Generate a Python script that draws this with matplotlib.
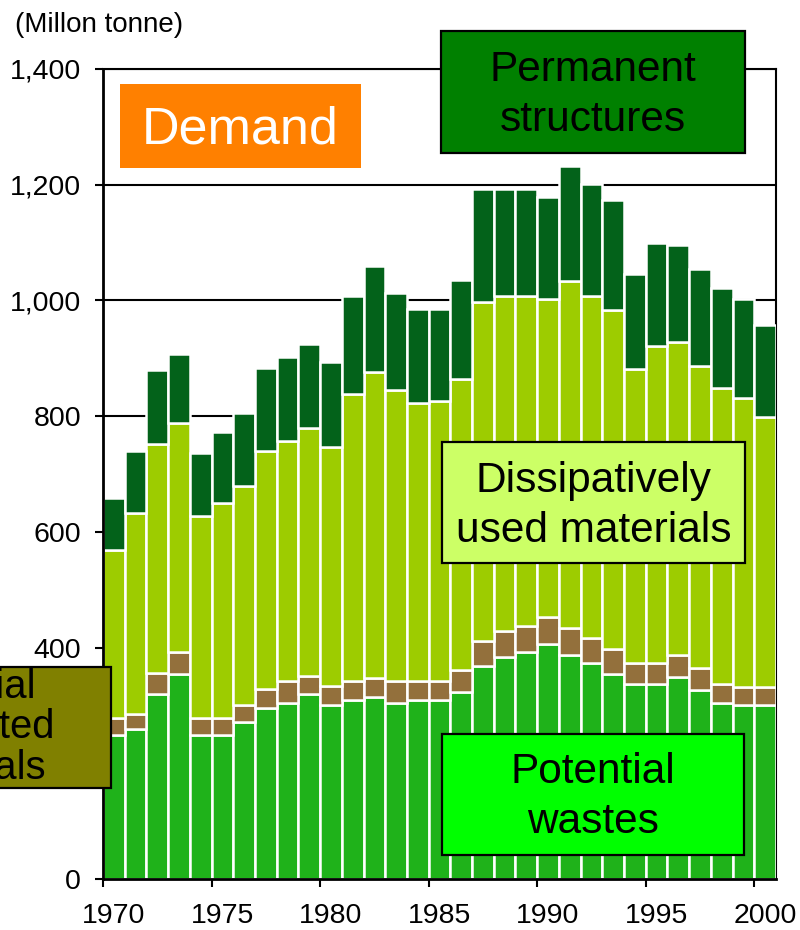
#!/usr/bin/env python3
"""
Material demand by end use, 1970-2000 (stacked bars with labelled boxes).
"""

import matplotlib
matplotlib.use("Agg")
import matplotlib.pyplot as plt
import matplotlib.patches as mpatches
from matplotlib.ticker import FuncFormatter, FixedLocator

plt.rcParams['font.family'] = ['Liberation Sans', 'DejaVu Sans']

# Years on the category axis
years = list(range(1970, 2001))

# Layer values (million tonne), bottom to top
potential_wastes = [249, 259, 319, 354, 249, 249, 272, 296, 305, 319, 300,
                    310, 314, 305, 309, 309, 323, 369, 383, 392, 406,
                    388, 374, 355, 337, 337, 350, 327, 305, 300, 300]
partial_dissipated = [29, 27, 37, 39, 29, 29, 28, 32, 37, 32, 33,
                      32, 33, 37, 33, 33, 38, 42, 46, 46, 46,
                      46, 42, 42, 37, 37, 38, 38, 32, 32, 32]
dissipative_use = [291, 346, 396, 396, 349, 372, 379, 411, 415, 429, 414,
                   497, 530, 503, 480, 484, 504, 587, 579, 570, 550,
                   600, 591, 586, 508, 548, 540, 522, 512, 499, 466]
permanent_structures = [89, 108, 127, 118, 109, 123, 126, 144, 145, 145, 146,
                        169, 182, 167, 163, 159, 170, 194, 184, 184, 176,
                        199, 195, 191, 163, 178, 167, 167, 172, 172, 159]

layer_values = [potential_wastes, partial_dissipated, dissipative_use, permanent_structures]
layer_colors = ['#1fb21a', '#93703c', '#9dcc00', '#03621a']

y_ticks = [0, 200, 400, 600, 800, 1000, 1200, 1400]
x_labels = ['1970', '1975', '1980', '1985', '1990', '1995', '2000']

W, H = 800, 930


def box(fig, x0, y0, x1, y1, face, text, text_color='black', size=30.5,
        tx=None, ty=None, edge=True, linespacing=1.35):
    """Draw a filled label box given in pixel coords (top-left origin)"""
    rect = mpatches.Rectangle((x0 / W, 1 - y1 / H), (x1 - x0) / W, (y1 - y0) / H,
                              transform=fig.transFigure, facecolor=face,
                              edgecolor='black' if edge else 'none',
                              linewidth=1.6 if edge else 0)
    fig.add_artist(rect)
    if tx is None:
        tx = (x0 + x1) / 2
    if ty is None:
        ty = (y0 + y1) / 2
    fig.text(tx / W, 1 - ty / H, text, color=text_color, fontsize=size,
             ha='center', va='center', multialignment='center',
             linespacing=linespacing)


fig = plt.figure(figsize=(8, 9.3), dpi=100)
ax = fig.add_axes([103 / W, 51 / H, 673 / W, 810 / H])

# Stacked bars
x = list(range(len(years)))
bottom = [0] * len(years)
for vals, color in zip(layer_values, layer_colors):
    ax.bar(x, vals, bottom=bottom, width=1.0, color=color,
           edgecolor='white', linewidth=1.8, zorder=2)
    bottom = [b + v for b, v in zip(bottom, vals)]

ax.set_xlim(-0.5, len(years) - 0.5)
ax.set_ylim(0, 1400)

# Gridlines sit behind the bars
ax.set_yticks(y_ticks)
ax.yaxis.set_major_formatter(FuncFormatter(lambda v, p: f'{int(v):,}'))
ax.yaxis.grid(True, color='black', linewidth=1.5)
ax.set_axisbelow(True)

# Tick marks between categories, labels under the bars
label_pos = [years.index(int(y)) for y in x_labels]
ax.xaxis.set_major_locator(FixedLocator([p - 0.5 for p in label_pos]))
ax.xaxis.set_minor_locator(FixedLocator(label_pos))
ax.set_xticklabels([''] * len(label_pos))
ax.set_xticklabels(x_labels, minor=True)
ax.tick_params(axis='x', which='major', direction='out', length=5.8, width=1.5)
ax.tick_params(axis='x', which='minor', length=0, pad=17, labelsize=20.5)
ax.tick_params(axis='y', direction='out', length=5.8, width=1.5, pad=10,
               labelsize=20.5)

for side in ['top', 'right']:
    ax.spines[side].set_linewidth(1.5)
    ax.spines[side].set_zorder(0.5)
for side in ['left', 'bottom']:
    ax.spines[side].set_linewidth(2)
    ax.spines[side].set_zorder(3)

# Unit label
fig.text(15 / W, 1 - 12 / H, '(Millon tonne)', fontsize=20, ha='left', va='top')

# Label boxes
box(fig, 120, 84, 361, 168, '#ff8000', 'Demand', text_color='white',
    size=37.5, edge=False, ty=130)
box(fig, 441, 31, 745, 153, '#008000', 'Permanent\nstructures', ty=95)
box(fig, 442, 442, 745, 563, '#ccff66', 'Dissipatively\nused materials', ty=506)
box(fig, 442, 734, 744, 855, '#00ff00', 'Potential\nwastes', ty=797)
box(fig, -200, 667, 111, 788, '#808000', 'Material\ndissipated\nmaterials',
    size=28.8, tx=-35, linespacing=1.08)

fig.savefig('out.png', dpi=100)
